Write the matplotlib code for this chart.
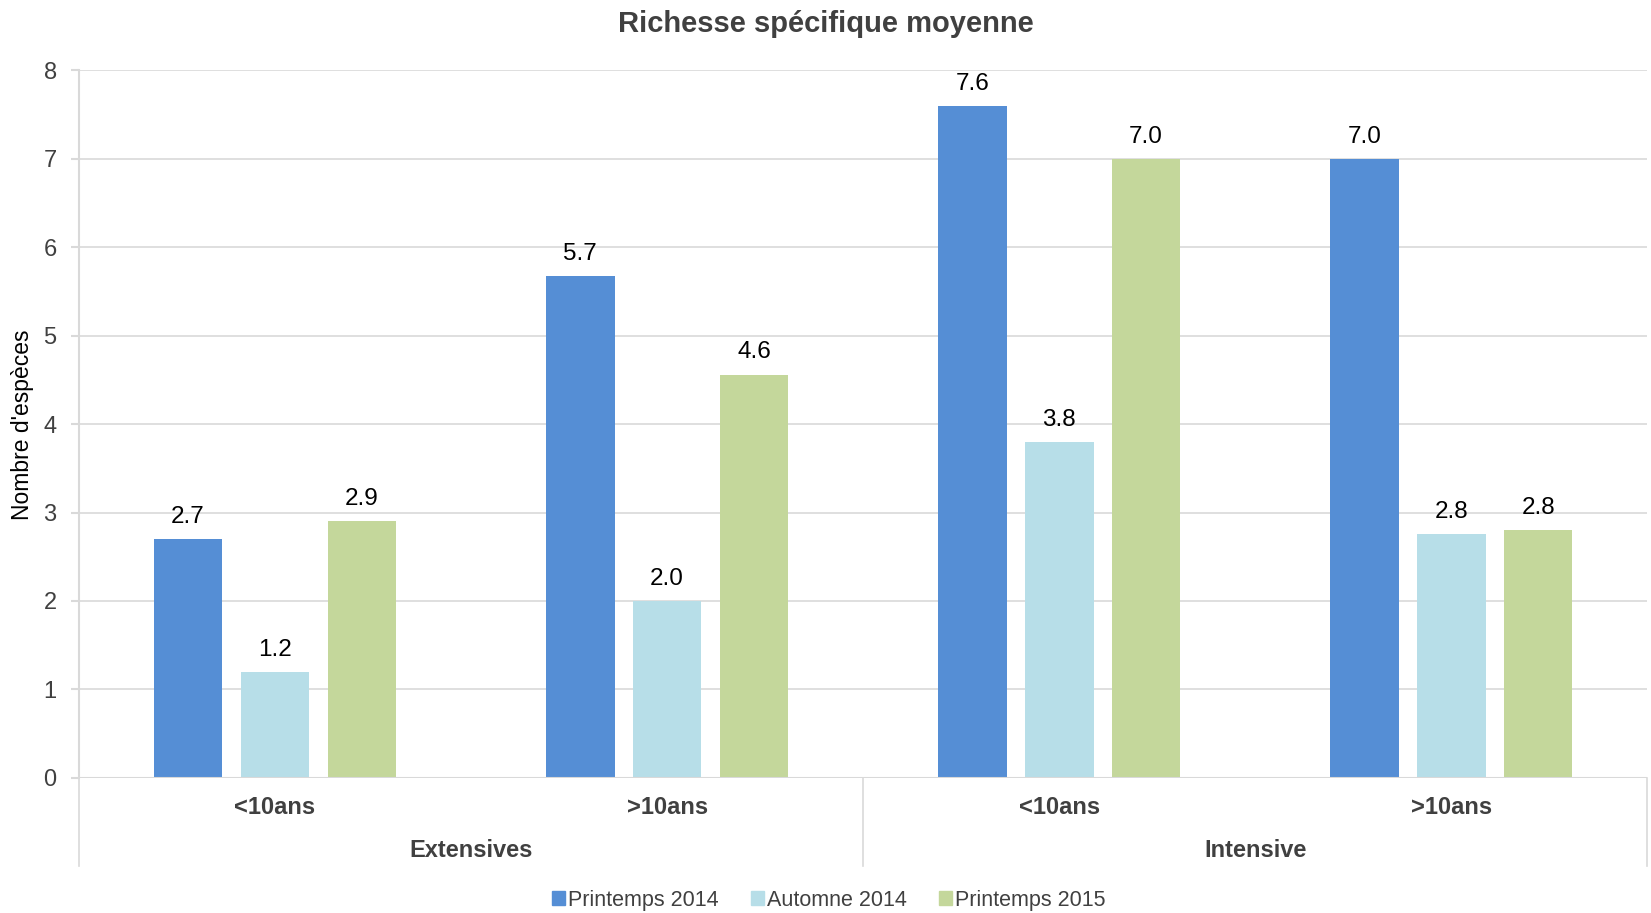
import numpy as np
import matplotlib
matplotlib.use("Agg")
import matplotlib.pyplot as plt
from matplotlib.patches import Patch

plt.rcParams['font.family'] = ['Liberation Sans', 'DejaVu Sans']

# data
categories = ["<10ans", ">10ans", "<10ans", ">10ans"]
groups = ["Extensives", "Intensive"]
series = ["Printemps 2014", "Automne 2014", "Printemps 2015"]
printemps_2014 = [2.70, 5.67, 7.60, 7.00]
automne_2014 = [1.20, 2.00, 3.80, 2.76]
printemps_2015 = [2.90, 4.56, 7.00, 2.80]
colors = ["#558ED5", "#B7DEE8", "#C4D79B"]

text_col = "#404040"
grid_col = "#D9D9D9"

fig = plt.figure(figsize=(16.51, 9.13), dpi=100)
ax = fig.add_axes([0.0478, 0.148, 0.950, 0.775])

x = np.arange(len(categories))
width = 0.175
step = 0.2215
for i, (name, vals) in enumerate(zip(series, [printemps_2014, automne_2014, printemps_2015])):
    bars = ax.bar(x + (i - 1) * step, vals, width, color=colors[i], label=name, zorder=3)
    ax.bar_label(bars, labels=[f"{v:.1f}" for v in vals], padding=8, fontsize=17.5, color="black")

ax.set_xlim(-0.5, len(categories) - 0.5)
ax.set_ylim(0, 8)
ax.set_yticks(range(0, 9))
ax.tick_params(axis='y', labelsize=17, labelcolor=text_col, color=grid_col, length=6, width=1.5, pad=10)
ax.yaxis.grid(True, color=grid_col, linewidth=1.2, zorder=0)
ax.set_xticks([])
for s in ["top", "right", "bottom"]:
    ax.spines[s].set_visible(False)
ax.spines["left"].set_color(grid_col)
ax.spines["left"].set_linewidth(1.5)
ax.axhline(0, color=grid_col, linewidth=1.5, zorder=4)

# hierarchical category axis
low = -0.1244
for xv in [-0.5, 1.5, 3.5]:
    ax.plot([xv, xv], [0, low], transform=ax.get_xaxis_transform(), color=grid_col,
            linewidth=1.2, clip_on=False)
for xi, cat in zip(x, categories):
    ax.text(xi, -0.0424, cat, transform=ax.get_xaxis_transform(), ha="center", va="center",
            fontsize=17, fontweight="bold", color=text_col)
for gi, g in enumerate(groups):
    ax.text(0.5 + 2 * gi, -0.103, g, transform=ax.get_xaxis_transform(), ha="center", va="center",
            fontsize=17, fontweight="bold", color=text_col)

fig.text(23 / 1651, 0.5345, "Nombre d'espèces", rotation=90, ha="center", va="center",
         fontsize=16.5, color="black")
fig.text(0.5, 0.974, "Richesse spécifique moyenne", ha="center", va="center",
         fontsize=21, fontweight="bold", color=text_col)

handles = [Patch(color=c) for c in colors]
fig.legend(handles, series, loc="center", bbox_to_anchor=(0.502, 0.0142), ncol=3, frameon=False,
           fontsize=15.5, handlelength=0.6, handleheight=0.6, handletextpad=0.15, columnspacing=1.5,
           labelcolor=text_col)

plt.savefig("out.png", dpi=100)
